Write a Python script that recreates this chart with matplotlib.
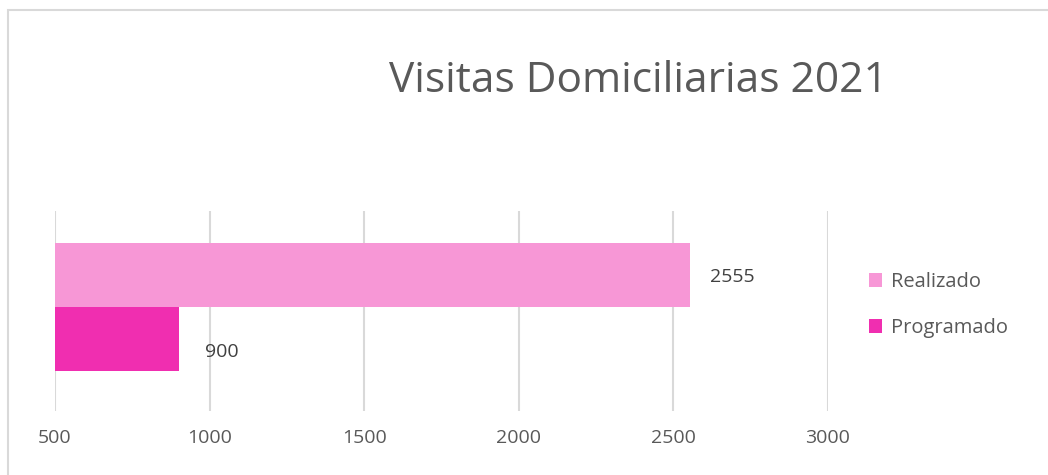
import matplotlib.pyplot as plt
from matplotlib.patches import Rectangle

categories = ["Realizado", "Programado"]
values = [2555, 900]
colors = ["#F797D6", "#F02EB0"]
xticks = [500, 1000, 1500, 2000, 2500, 3000]
title = "Visitas Domiciliarias 2021"

plt.rcParams['font.family'] = ['Open Sans', 'DejaVu Sans']

fig = plt.figure(figsize=(10.48, 4.75), dpi=100)
ax = fig.add_axes([0.0525, 0.1347, 0.7375, 0.4211])

base = 500
ypos = [0.16, -0.16]
label_shift = [(20, -2), (26, -13)]
for cat, val, col, y, off in zip(categories, values, colors, ypos, label_shift):
    ax.barh(y, val - base, left=base, height=0.32, color=col, label=cat, zorder=2)
    ax.annotate(str(val), xy=(val, y), xytext=off, textcoords='offset pixels',
                ha='left', va='center', fontsize=14, color='#404040')

ax.set_xlim(500, 3000)
ax.set_ylim(-0.52, 0.48)
ax.set_xticks(xticks)
ax.set_yticks([])
ax.grid(axis='x', color='#D9D9D9', linewidth=1.5, zorder=0)
for s in ax.spines.values():
    s.set_visible(False)
ax.tick_params(axis='x', length=0, pad=13, labelsize=14, labelcolor='#595959')

fig.text(0.609, 0.83, title, ha='center', va='center', fontsize=30.5, color='#595959')

leg = ax.legend(loc='center left', bbox_to_anchor=(1.03, 0.53), frameon=False,
                fontsize=14.5, handlelength=0.65, handleheight=0.65, handletextpad=0.45,
                labelspacing=1.3, labelcolor='#595959')

fig.patches.append(Rectangle((0.0072, -0.2), 2.0, 1.18, transform=fig.transFigure,
                             fill=False, edgecolor='#D9D9D9', linewidth=1.5))

fig.savefig("out.png", dpi=100)
